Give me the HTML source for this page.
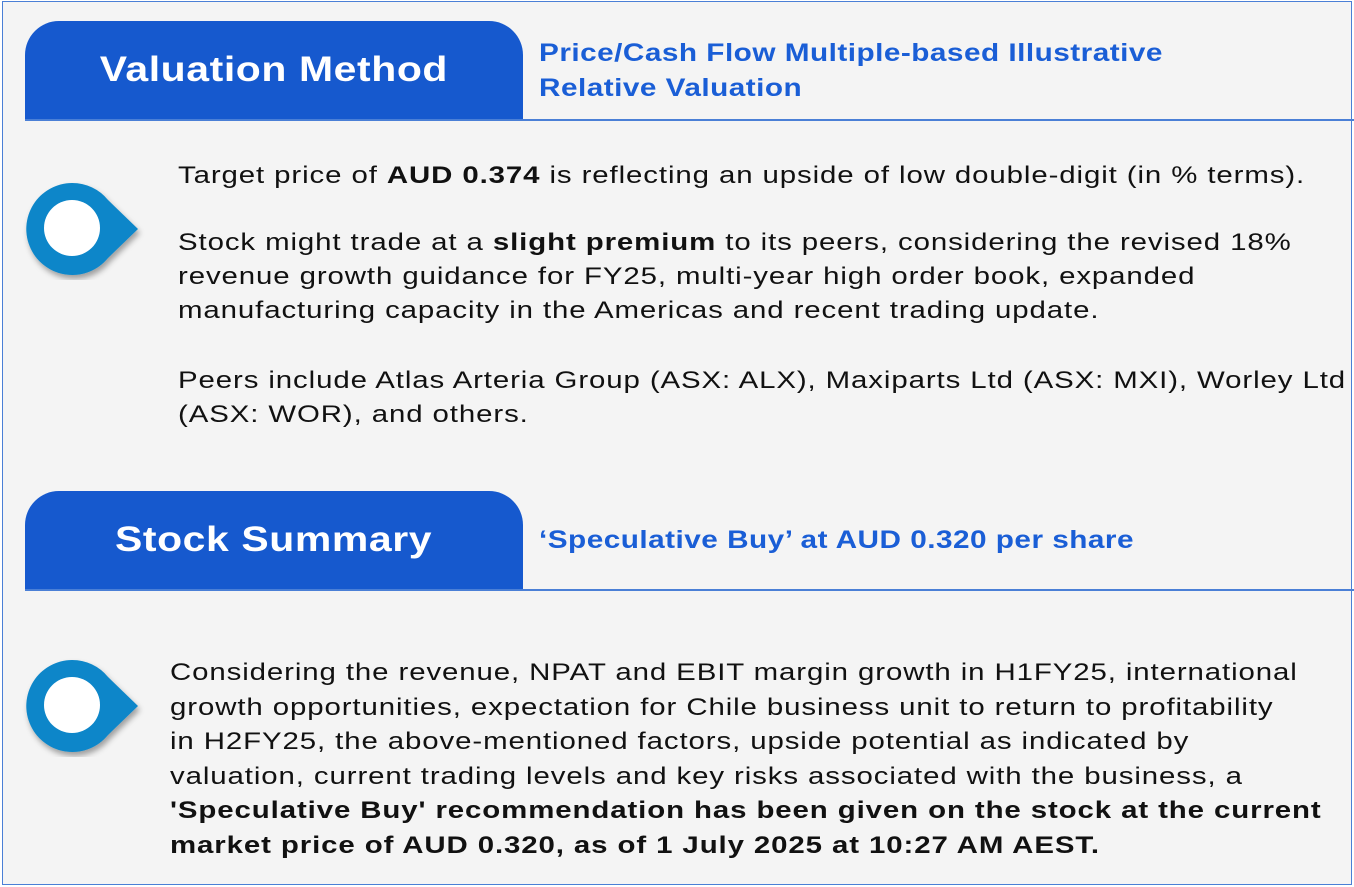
<!DOCTYPE html>
<html><head><meta charset="utf-8"><style>
*{margin:0;padding:0;box-sizing:border-box}
body{width:1354px;height:887px;background:#fff;font-family:"Liberation Sans",sans-serif;position:relative;overflow:hidden}
.frame{position:absolute;left:2px;top:1px;width:1350px;height:884px;border:1.5px solid #4a7fd6;background:#f4f4f4}
.tab{position:absolute;left:25px;width:498px;height:100px;background:#1659ce;border-radius:34px 34px 0 0;color:#fff;font-weight:bold;font-size:35px;text-align:center;letter-spacing:0.5px}
.tab span{display:inline-block;transform:scaleX(1.17)}
.rule{position:absolute;left:25px;right:0;height:2px;background:#4a7fd6}
.sub{position:absolute;left:539px;color:#1a5ed6;font-weight:bold;font-size:25px;line-height:35px;letter-spacing:0.4px;transform:scaleX(1.19);transform-origin:0 0;white-space:nowrap}
.txt{position:absolute;font-size:24.5px;line-height:34.2px;color:#111;letter-spacing:0.75px;white-space:nowrap;transform:scaleX(1.2);transform-origin:0 0}
.icon{position:absolute;width:140px;height:100px}
</style></head><body>
<div class="frame"></div>
<div class="tab" style="top:21px;line-height:98px"><span>Valuation Method</span></div>
<div class="rule" style="top:119px"></div>
<div class="sub" style="top:36px">Price/Cash Flow Multiple-based Illustrative<br>Relative Valuation</div>

<svg class="icon" style="left:20px;top:180px" viewBox="0 0 140 100">
<defs><filter id="s"><feDropShadow dx="2" dy="4" stdDeviation="3" flood-opacity="0.35"/></filter></defs>
<path d="M52 3 A46 46 0 1 0 88 78 L118 49 L88 20 A46 46 0 0 0 52 3Z" fill="#0a86c9" filter="url(#s)"/>
<circle cx="52" cy="48" r="28" fill="#fff"/>
</svg>

<div class="txt" style="left:178px;top:159px">Target price of <b>AUD 0.374</b> is reflecting an upside of low double-digit (in % terms).</div>
<div class="txt" style="left:178px;top:226px">Stock might trade at a <b>slight premium</b> to its peers, considering the revised 18%<br>revenue growth guidance for FY25, multi-year high order book, expanded<br>manufacturing capacity in the Americas and recent trading update.</div>
<div class="txt" style="left:178px;top:364px">Peers include Atlas Arteria Group (ASX: ALX), Maxiparts Ltd (ASX: MXI), Worley Ltd<br>(ASX: WOR), and others.</div>

<div class="tab" style="top:491px;line-height:98px"><span>Stock Summary</span></div>
<div class="rule" style="top:589px"></div>
<div class="sub" style="top:523px">‘Speculative Buy’ at AUD 0.320 per share</div>

<svg class="icon" style="left:20px;top:657px" viewBox="0 0 140 100">
<path d="M52 3 A46 46 0 1 0 88 78 L118 49 L88 20 A46 46 0 0 0 52 3Z" fill="#0a86c9" filter="url(#s)"/>
<circle cx="52" cy="48" r="28" fill="#fff"/>
</svg>

<div class="txt" style="left:170px;top:656px;line-height:34.5px">Considering the revenue, NPAT and EBIT margin growth in H1FY25, international<br>growth opportunities, expectation for Chile business unit to return to profitability<br>in H2FY25, the above-mentioned factors, upside potential as indicated by<br>valuation, current trading levels and key risks associated with the business, a<br><b>'Speculative Buy' recommendation has been given on the stock at the current<br>market price of AUD 0.320, as of 1 July 2025 at 10:27 AM AEST.</b></div>
</body></html>
